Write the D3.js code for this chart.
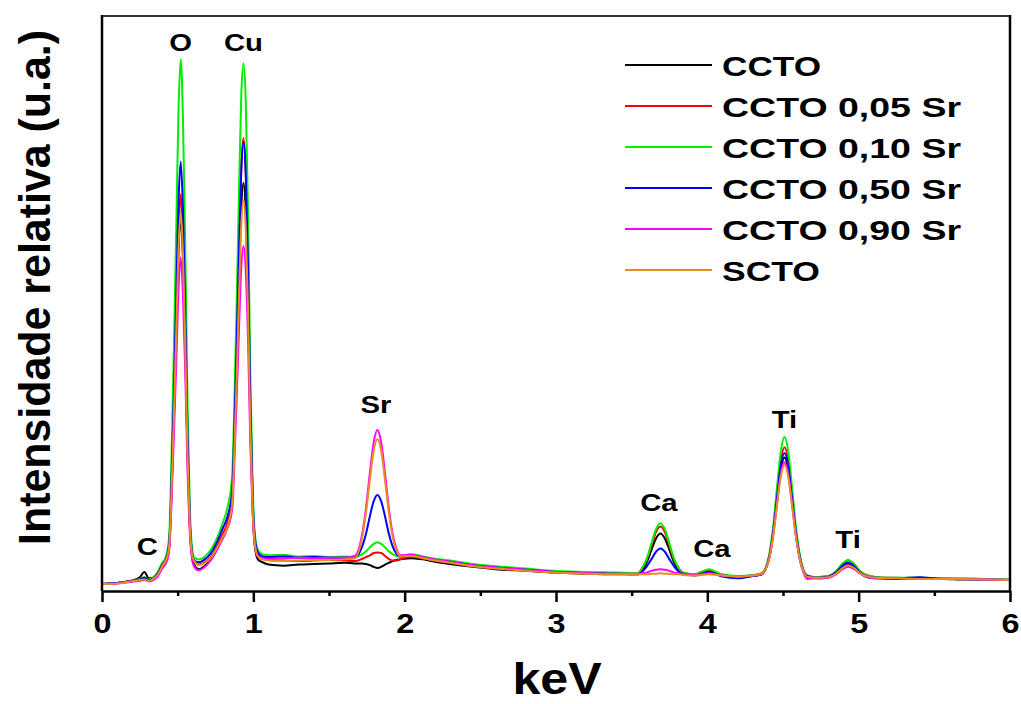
<!DOCTYPE html>
<html>
<head>
<meta charset="utf-8">
<script src="https://cdn.jsdelivr.net/npm/d3@7"></script>
<style>
  html, body { margin: 0; padding: 0; background: #fff; }
  svg { display: block; }
  text { font-family: "Liberation Sans", Arial, sans-serif; font-weight: bold; fill: #000; }
</style>
</head>
<body>
<svg id="chart" width="1021" height="704"></svg>
<script>
// EDS spectra: energy grid (keV) and relative intensity of each sample
const energy = [
  0.00, 0.10, 0.20, 0.25, 0.28, 0.31, 0.34, 0.37, 0.40,
  0.415, 0.43, 0.445, 0.46, 0.475, 0.49, 0.505, 0.52, 0.535, 0.55, 0.565, 0.58, 0.595, 0.61,
  0.64, 0.68, 0.72, 0.76, 0.80, 0.83,
  0.86, 0.875, 0.89, 0.905, 0.92, 0.935, 0.95, 0.965, 0.98, 0.995, 1.01, 1.03, 1.06,
  1.10, 1.20, 1.30, 1.40, 1.50, 1.60, 1.67,
  1.72, 1.745, 1.77, 1.795, 1.82, 1.845, 1.87, 1.895, 1.92, 1.945, 1.97,
  2.04, 2.12, 2.20, 2.30, 2.45, 2.60, 2.80, 3.00, 3.20, 3.40, 3.54,
  3.57, 3.60, 3.63, 3.66, 3.69, 3.72, 3.75, 3.78, 3.81, 3.84,
  3.92, 3.96, 4.01, 4.06, 4.10, 4.20, 4.30,
  4.36, 4.385, 4.41, 4.435, 4.46, 4.485, 4.51, 4.535, 4.56, 4.585, 4.61, 4.635, 4.66,
  4.72, 4.80, 4.85, 4.89, 4.93, 4.97, 5.01, 5.06, 5.12,
  5.25, 5.40, 5.55, 5.70, 5.85, 6.00
];

const ccto = [
  0.012, 0.014, 0.018, 0.024, 0.033, 0.022, 0.023, 0.030, 0.045,
  0.049, 0.058, 0.079, 0.176, 0.301, 0.439, 0.584, 0.650, 0.577, 0.426, 0.239, 0.114, 0.060, 0.045,
  0.038, 0.044, 0.055, 0.073, 0.095, 0.115,
  0.156, 0.256, 0.389, 0.534, 0.663, 0.710, 0.657, 0.511, 0.293, 0.147, 0.078, 0.055, 0.050,
  0.046, 0.044, 0.046, 0.047, 0.048, 0.049, 0.048,
  0.048, 0.047, 0.045, 0.042, 0.040, 0.042, 0.046, 0.049, 0.052, 0.054, 0.055,
  0.057, 0.055, 0.051, 0.047, 0.042, 0.038, 0.035, 0.032, 0.030, 0.029, 0.029,
  0.037, 0.050, 0.071, 0.091, 0.100, 0.091, 0.071, 0.050, 0.037, 0.031,
  0.028, 0.031, 0.035, 0.031, 0.027, 0.024, 0.026,
  0.029, 0.038, 0.058, 0.099, 0.156, 0.210, 0.232, 0.210, 0.156, 0.099, 0.058, 0.034, 0.025,
  0.022, 0.024, 0.031, 0.042, 0.047, 0.042, 0.031, 0.024, 0.022,
  0.021, 0.021, 0.021, 0.020, 0.020, 0.019
];

const ccto005 = [
  0.012, 0.014, 0.018, 0.020, 0.022, 0.019, 0.022, 0.031, 0.046,
  0.050, 0.060, 0.083, 0.186, 0.318, 0.465, 0.620, 0.690, 0.613, 0.451, 0.252, 0.119, 0.065, 0.052,
  0.046, 0.050, 0.060, 0.078, 0.100, 0.120,
  0.169, 0.282, 0.429, 0.591, 0.735, 0.788, 0.729, 0.568, 0.326, 0.164, 0.087, 0.063, 0.056,
  0.054, 0.053, 0.052, 0.053, 0.054, 0.053, 0.052,
  0.056, 0.059, 0.062, 0.066, 0.067, 0.066, 0.061, 0.056, 0.053, 0.053, 0.055,
  0.060, 0.057, 0.053, 0.050, 0.044, 0.040, 0.036, 0.033, 0.031, 0.030, 0.030,
  0.040, 0.055, 0.078, 0.102, 0.112, 0.102, 0.078, 0.055, 0.040, 0.032,
  0.029, 0.033, 0.037, 0.032, 0.028, 0.025, 0.027,
  0.031, 0.039, 0.062, 0.106, 0.168, 0.226, 0.250, 0.226, 0.168, 0.106, 0.062, 0.036, 0.027,
  0.024, 0.026, 0.034, 0.046, 0.053, 0.047, 0.034, 0.027, 0.024,
  0.023, 0.022, 0.022, 0.021, 0.021, 0.019
];

const ccto010 = [
  0.012, 0.014, 0.018, 0.021, 0.024, 0.020, 0.024, 0.034, 0.050,
  0.055, 0.068, 0.100, 0.240, 0.420, 0.620, 0.830, 0.925, 0.820, 0.600, 0.330, 0.150, 0.075, 0.058,
  0.055, 0.060, 0.072, 0.092, 0.120, 0.146,
  0.200, 0.330, 0.500, 0.690, 0.860, 0.918, 0.850, 0.660, 0.380, 0.190, 0.100, 0.072, 0.064,
  0.062, 0.063, 0.060, 0.061, 0.059, 0.060, 0.059,
  0.064, 0.069, 0.076, 0.082, 0.085, 0.082, 0.076, 0.069, 0.064, 0.061, 0.060,
  0.064, 0.060, 0.056, 0.053, 0.047, 0.043, 0.039, 0.035, 0.033, 0.032, 0.031,
  0.040, 0.056, 0.082, 0.107, 0.118, 0.107, 0.082, 0.056, 0.040, 0.032,
  0.029, 0.033, 0.038, 0.033, 0.029, 0.026, 0.028,
  0.031, 0.040, 0.065, 0.112, 0.179, 0.242, 0.268, 0.242, 0.179, 0.112, 0.065, 0.037, 0.027,
  0.024, 0.026, 0.034, 0.047, 0.054, 0.047, 0.034, 0.027, 0.024,
  0.023, 0.023, 0.022, 0.022, 0.021, 0.020
];

const ccto050 = [
  0.012, 0.014, 0.018, 0.020, 0.023, 0.019, 0.022, 0.031, 0.046,
  0.051, 0.062, 0.087, 0.199, 0.343, 0.503, 0.671, 0.747, 0.663, 0.487, 0.271, 0.127, 0.067, 0.053,
  0.050, 0.055, 0.066, 0.085, 0.110, 0.130,
  0.173, 0.283, 0.428, 0.587, 0.728, 0.781, 0.723, 0.564, 0.326, 0.166, 0.091, 0.067, 0.060,
  0.059, 0.060, 0.058, 0.059, 0.058, 0.058, 0.058,
  0.078, 0.100, 0.130, 0.156, 0.167, 0.156, 0.130, 0.100, 0.078, 0.065, 0.060,
  0.062, 0.058, 0.054, 0.051, 0.045, 0.041, 0.037, 0.033, 0.031, 0.030, 0.029,
  0.034, 0.043, 0.055, 0.068, 0.074, 0.068, 0.055, 0.043, 0.034, 0.030,
  0.027, 0.030, 0.033, 0.029, 0.025, 0.022, 0.026,
  0.029, 0.038, 0.060, 0.102, 0.161, 0.217, 0.240, 0.217, 0.161, 0.102, 0.060, 0.035, 0.026,
  0.023, 0.025, 0.032, 0.043, 0.049, 0.043, 0.032, 0.025, 0.023,
  0.022, 0.024, 0.021, 0.021, 0.020, 0.019
];

const ccto090 = [
  0.012, 0.013, 0.016, 0.018, 0.019, 0.017, 0.019, 0.026, 0.040,
  0.045, 0.053, 0.073, 0.159, 0.270, 0.392, 0.521, 0.580, 0.515, 0.380, 0.214, 0.103, 0.056, 0.042,
  0.036, 0.042, 0.054, 0.072, 0.092, 0.110,
  0.142, 0.226, 0.335, 0.454, 0.561, 0.600, 0.556, 0.437, 0.257, 0.137, 0.080, 0.061, 0.057,
  0.056, 0.057, 0.058, 0.057, 0.058, 0.058, 0.061,
  0.100, 0.145, 0.205, 0.258, 0.280, 0.258, 0.205, 0.145, 0.100, 0.074, 0.062,
  0.063, 0.059, 0.055, 0.051, 0.045, 0.041, 0.037, 0.033, 0.031, 0.030, 0.030,
  0.031, 0.032, 0.035, 0.037, 0.038, 0.037, 0.035, 0.032, 0.031, 0.030,
  0.028, 0.029, 0.031, 0.029, 0.027, 0.025, 0.027,
  0.030, 0.038, 0.058, 0.097, 0.151, 0.203, 0.224, 0.203, 0.151, 0.097, 0.056, 0.032, 0.021,
  0.022, 0.023, 0.029, 0.037, 0.042, 0.038, 0.030, 0.024, 0.022,
  0.022, 0.021, 0.021, 0.021, 0.020, 0.019
];

const scto = [
  0.012, 0.013, 0.017, 0.019, 0.020, 0.018, 0.021, 0.029, 0.044,
  0.050, 0.059, 0.081, 0.179, 0.306, 0.446, 0.593, 0.660, 0.586, 0.432, 0.242, 0.116, 0.064, 0.052,
  0.045, 0.049, 0.058, 0.075, 0.095, 0.112,
  0.152, 0.248, 0.374, 0.512, 0.635, 0.680, 0.630, 0.492, 0.286, 0.148, 0.082, 0.060, 0.055,
  0.053, 0.052, 0.053, 0.054, 0.054, 0.055, 0.057,
  0.095, 0.138, 0.193, 0.244, 0.264, 0.244, 0.193, 0.138, 0.095, 0.071, 0.060,
  0.061, 0.057, 0.053, 0.049, 0.043, 0.039, 0.035, 0.032, 0.030, 0.029, 0.029,
  0.029, 0.029, 0.030, 0.030, 0.031, 0.030, 0.030, 0.029, 0.029, 0.028,
  0.027, 0.028, 0.029, 0.028, 0.027, 0.025, 0.027,
  0.030, 0.038, 0.057, 0.095, 0.148, 0.198, 0.219, 0.198, 0.148, 0.095, 0.057, 0.034, 0.025,
  0.023, 0.024, 0.030, 0.039, 0.045, 0.040, 0.031, 0.025, 0.023,
  0.022, 0.021, 0.021, 0.021, 0.020, 0.019
];

const seriesNames = ["CCTO", "CCTO 0,05 Sr", "CCTO 0,10 Sr", "CCTO 0,50 Sr", "CCTO 0,90 Sr", "SCTO"];
const seriesValues = [ccto, ccto005, ccto010, ccto050, ccto090, scto];
const seriesColors = ["#000000", "#ff0000", "#00ee00", "#0000ff", "#ff00ff", "#ea8a22"];

// element lines annotated above their peaks
const peakLabels = ["C", "O", "Cu", "Sr", "Ca", "Ca", "Ti", "Ti"];
const peakEnergies = [0.30, 0.52, 0.935, 1.81, 3.68, 4.03, 4.51, 4.93];
const peakLabelLevels = [0.062, 0.94, 0.94, 0.31, 0.139, 0.060, 0.283, 0.075];

const xTicks = [0, 1, 2, 3, 4, 5, 6];
const xMinorTicks = [0.5, 1.5, 2.5, 3.5, 4.5, 5.5];

const svg = d3.select("#chart");
const plotLeft = 102, plotRight = 1010, plotTop = 16, plotBottom = 591;

const x = d3.scaleLinear().domain([0, 6]).range([plotLeft, plotRight]);
const y = d3.scaleLinear().domain([0, 1]).range([plotBottom, plotTop]);

// spectra
const line = d3.line()
  .x(d => x(d[0]))
  .y(d => y(d[1]))
  .curve(d3.curveMonotoneX);

const plot = svg.append("g");
seriesValues.forEach((vals, i) => {
  const pts = energy.map((e, k) => [e, vals[k]]);
  plot.append("path")
    .attr("d", line(pts))
    .attr("fill", "none")
    .attr("stroke", seriesColors[i])
    .attr("stroke-width", 2)
    .attr("stroke-linejoin", "round");
});

// frame
svg.append("line").attr("x1", plotLeft).attr("x2", plotRight).attr("y1", plotTop).attr("y2", plotTop)
  .attr("stroke", "#333").attr("stroke-width", 2);
svg.append("line").attr("x1", plotRight).attr("x2", plotRight).attr("y1", plotTop - 1).attr("y2", plotBottom)
  .attr("stroke", "#000").attr("stroke-width", 2.5);
svg.append("line").attr("x1", plotLeft).attr("x2", plotLeft).attr("y1", plotTop - 1).attr("y2", plotBottom)
  .attr("stroke", "#000").attr("stroke-width", 2.5);

// bottom axis: major ticks labelled, minor ticks at half steps
const xAxis = d3.axisBottom(x).tickValues(xTicks).tickSize(11).tickSizeOuter(0).tickPadding(6)
  .tickFormat(d3.format("d"));
const gx = svg.append("g").attr("transform", `translate(0,${plotBottom})`).call(xAxis);
gx.select(".domain").attr("stroke", "#000").attr("stroke-width", 2.5);
gx.selectAll(".tick line").attr("stroke", "#000").attr("stroke-width", 2.5);
gx.selectAll(".tick text")
  .attr("font-size", 27)
  .attr("font-family", "Liberation Sans, Arial, sans-serif")
  .attr("font-weight", "bold")
  .attr("fill", "#000")
  .attr("dy", null)
  .attr("y", 42)
  .attr("transform", "scale(1.2,1)");

const minorAxis = d3.axisBottom(x).tickValues(xMinorTicks).tickSize(5).tickFormat("");
const gm = svg.append("g").attr("transform", `translate(0,${plotBottom})`).call(minorAxis);
gm.select(".domain").remove();
gm.selectAll(".tick line").attr("stroke", "#000").attr("stroke-width", 2.5);

// peak annotations
peakLabels.forEach((lab, i) => {
  svg.append("text")
    .attr("transform", `translate(${x(peakEnergies[i])},${y(peakLabelLevels[i])}) scale(1.22,1)`)
    .attr("text-anchor", "middle")
    .attr("font-size", 24)
    .text(lab);
});

// axis titles
svg.append("text")
  .attr("transform", "translate(557,694) scale(1.14,1)")
  .attr("text-anchor", "middle")
  .attr("font-size", 44)
  .text("keV");

svg.append("text")
  .attr("transform", "translate(50,287.5) rotate(-90)")
  .attr("text-anchor", "middle")
  .attr("font-size", 44)
  .attr("textLength", 515)
  .attr("lengthAdjust", "spacingAndGlyphs")
  .text("Intensidade relativa (u.a.)");

// legend
const legendWidths = [99, 239, 239, 239, 239, 98];
const legend = svg.append("g");
seriesNames.forEach((name, i) => {
  const ly = 65 + i * 41;
  legend.append("line")
    .attr("x1", 625).attr("x2", 712).attr("y1", ly).attr("y2", ly)
    .attr("stroke", seriesColors[i]).attr("stroke-width", 2);
  legend.append("text")
    .attr("x", 722).attr("y", ly + 11)
    .attr("font-size", 28)
    .attr("textLength", legendWidths[i])
    .attr("lengthAdjust", "spacingAndGlyphs")
    .text(name);
});
</script>
</body>
</html>
